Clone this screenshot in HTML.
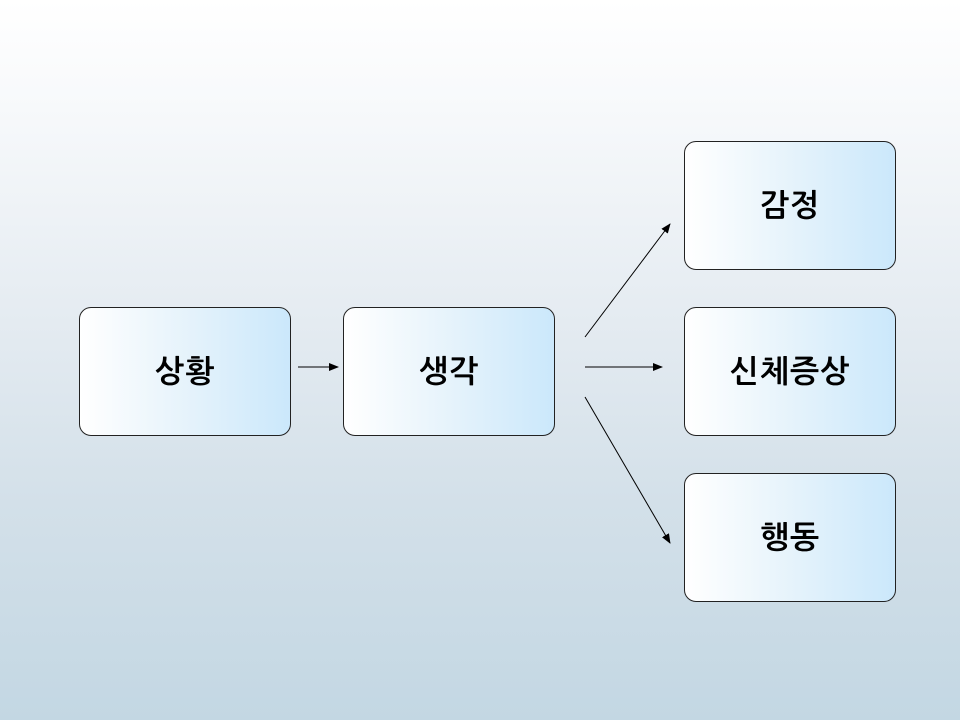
<!DOCTYPE html>
<html><head><meta charset="utf-8"><style>
html,body{margin:0;padding:0}
body{width:960px;height:720px;position:relative;overflow:hidden;background:linear-gradient(to bottom,#ffffff 0%,#f7f9fb 15%,#e4ebf1 45%,#d3e0e9 70%,#c3d7e3 100%);font-family:"Liberation Sans","NanumGothic","Noto Sans CJK KR",sans-serif}
.b{position:absolute;width:212px;height:129px;border:1px solid #222;border-radius:12px;background:linear-gradient(to right,#ffffff 0%,#e6f3fb 50%,#cbe8fb 100%);box-sizing:border-box;display:flex;align-items:center;justify-content:center;font-size:31px;font-weight:bold;color:#000;letter-spacing:1px}
svg{position:absolute;left:0;top:0}
</style></head><body>
<div class="b" style="left:79px;top:307px">상황</div>
<div class="b" style="left:343px;top:307px">생각</div>
<div class="b" style="left:684px;top:141px">감정</div>
<div class="b" style="left:684px;top:307px">신체증상</div>
<div class="b" style="left:684px;top:473px">행동</div>
<svg width="960" height="720">
<defs><marker id="a" markerWidth="10" markerHeight="8" refX="9" refY="4" orient="auto" markerUnits="userSpaceOnUse"><path d="M0,0 L10,4 L0,8 z" fill="#000"/></marker></defs>
<g stroke="#000" stroke-width="1" fill="none" marker-end="url(#a)">
<line x1="298" y1="367" x2="338" y2="367"/>
<line x1="585" y1="367" x2="662" y2="367"/>
<line x1="585" y1="337" x2="670" y2="224"/>
<line x1="585" y1="397" x2="670" y2="543"/>
</g></svg>
</body></html>
